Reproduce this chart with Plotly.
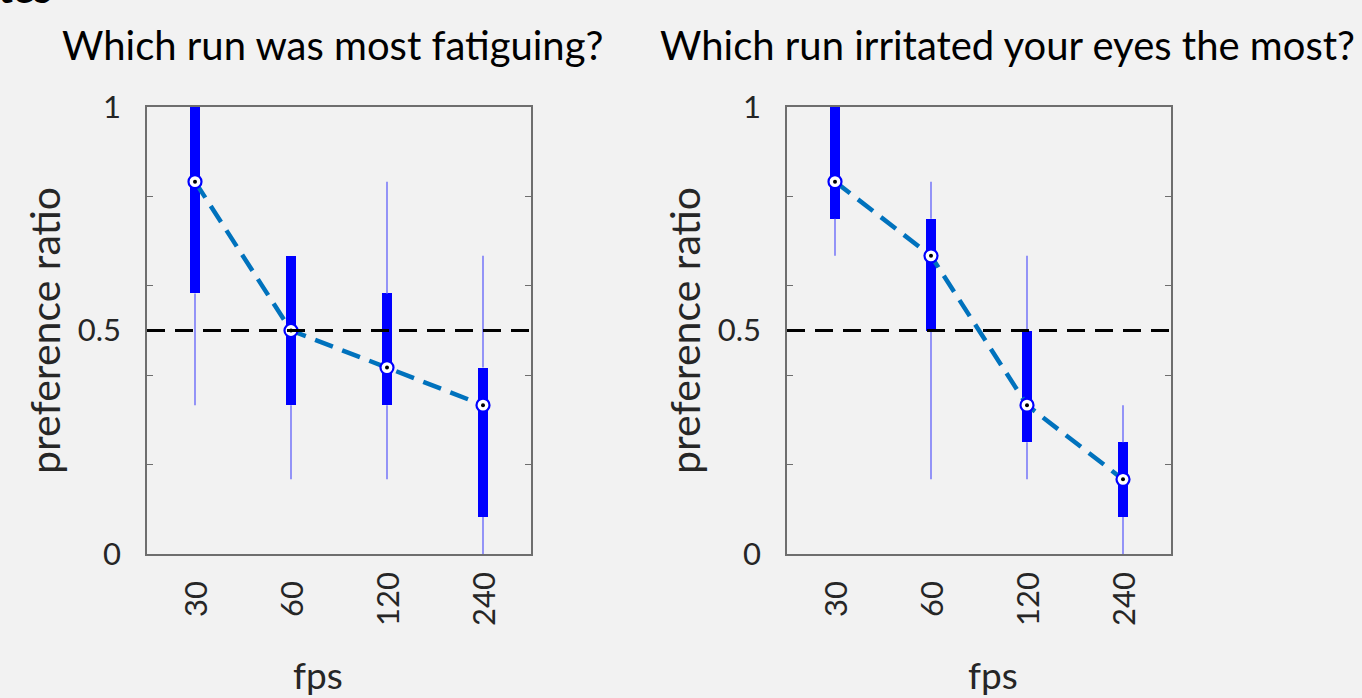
import plotly.graph_objects as go

# fps conditions shown on both panels
fps = ["30", "60", "120", "240"]

# "Which run was most fatiguing?"
fat_median = [0.833, 0.5, 0.417, 0.333]
fat_q1 = [0.583, 0.333, 0.333, 0.083]
fat_q3 = [1.0, 0.667, 0.583, 0.417]
fat_lo = [0.333, 0.167, 0.167, 0.0]
fat_hi = [1.0, 0.667, 0.833, 0.667]

# "Which run irritated your eyes the most?"
eye_median = [0.833, 0.667, 0.333, 0.167]
eye_q1 = [0.75, 0.5, 0.25, 0.083]
eye_q3 = [1.0, 0.75, 0.5, 0.25]
eye_lo = [0.667, 0.167, 0.167, 0.0]
eye_hi = [1.0, 0.833, 0.667, 0.333]

titles = ["Which run was most fatiguing?", "Which run irritated your eyes the most?"]
y_tickvals = [0, 0.5, 1]
y_ticktext = ["0", "0.5", "1"]
y_minor = [0.2, 0.4, 0.6, 0.8]
chance = 0.5

FONT = "Lato, Noto Sans, sans-serif"
BG = "#f2f2f2"
BOX = "#0000ff"
WHISK = "#7b7bf8"
LINE = "#0072bd"
FRAME = "#6e6e6e"
TXT = "#262626"

fig = go.Figure()

panels = [
    dict(xa="x", ya="y", med=fat_median, q1=fat_q1, q3=fat_q3, lo=fat_lo, hi=fat_hi),
    dict(xa="x2", ya="y2", med=eye_median, q1=eye_q1, q3=eye_q3, lo=eye_lo, hi=eye_hi),
]

for p in panels:
    # lower whiskers: from the first quartile down to the minimum
    fig.add_trace(go.Scatter(
        x=fps, y=p["q1"], mode="markers", marker=dict(size=0.1, color="rgba(0,0,0,0)"),
        error_y=dict(type="data", symmetric=False,
                     array=[0] * len(fps),
                     arrayminus=[a - l for a, l in zip(p["q1"], p["lo"])],
                     color=WHISK, thickness=1.6, width=0),
        xaxis=p["xa"], yaxis=p["ya"], showlegend=False, hoverinfo="skip"))
    # upper whiskers: from the third quartile up to the maximum
    fig.add_trace(go.Scatter(
        x=fps, y=p["q3"], mode="markers", marker=dict(size=0.1, color="rgba(0,0,0,0)"),
        error_y=dict(type="data", symmetric=False,
                     array=[h - b for h, b in zip(p["hi"], p["q3"])],
                     arrayminus=[0] * len(fps),
                     color=WHISK, thickness=1.6, width=0),
        xaxis=p["xa"], yaxis=p["ya"], showlegend=False, hoverinfo="skip"))
    # interquartile boxes
    fig.add_trace(go.Bar(
        x=fps, y=[b - a for a, b in zip(p["q1"], p["q3"])], base=p["q1"],
        width=0.1, marker=dict(color=BOX, line=dict(width=0)),
        xaxis=p["xa"], yaxis=p["ya"], showlegend=False))
    # median trend, dashed
    fig.add_trace(go.Scatter(
        x=fps, y=p["med"], mode="lines",
        line=dict(color=LINE, width=4.5, dash="19px,10px"),
        xaxis=p["xa"], yaxis=p["ya"], showlegend=False))
    # median markers
    fig.add_trace(go.Scatter(
        x=fps, y=p["med"], mode="markers",
        marker=dict(symbol="circle", size=13, color="white", line=dict(color=BOX, width=2.2)),
        xaxis=p["xa"], yaxis=p["ya"], showlegend=False))
    fig.add_trace(go.Scatter(
        x=fps, y=p["med"], mode="markers",
        marker=dict(symbol="circle", size=4, color="black"),
        xaxis=p["xa"], yaxis=p["ya"], showlegend=False))

W, H = 1362, 698
ydom = [1 - 554 / H, 1 - 107 / H]
xdoms = [[147 / W, 531 / W], [787 / W, 1171 / W]]

axis_common = dict(showline=True, linecolor=FRAME, linewidth=1.5, mirror="ticks",
                   showgrid=False, zeroline=False, automargin=False)

for i, xd in enumerate(xdoms):
    sx = "" if i == 0 else "2"
    fig.layout["xaxis" + sx] = go.layout.XAxis(
        domain=xd, type="category", range=[-0.5, 3.5], showticklabels=False,
        ticks="", anchor="y" + sx, **axis_common)
    fig.layout["yaxis" + sx] = go.layout.YAxis(
        domain=ydom, range=[0, 1], anchor="x" + sx,
        tickvals=y_tickvals, ticktext=y_ticktext, ticks="inside", ticklen=0,
        tickfont=dict(family=FONT, size=31, color=TXT), ticklabelstandoff=18,
        minor=dict(tickvals=y_minor, ticks="inside", ticklen=6, tickcolor=FRAME, tickwidth=1.2),
        title=dict(text="preference ratio", font=dict(family=FONT, size=41, color=TXT), standoff=4),
        **axis_common)
    # chance level reference line
    fig.add_shape(type="line", xref="x" + sx + " domain", yref="y" + sx,
                  x0=0, x1=1, y0=chance, y1=chance,
                  line=dict(color="black", width=2.8, dash="18px,10px"))

# panel titles
title_x = [332 / W, 1007 / W]
for tx, t in zip(title_x, titles):
    fig.add_annotation(text=t, x=tx, y=1 - 45 / H, xref="paper", yref="paper",
                       xanchor="center", yanchor="middle", showarrow=False,
                       font=dict(family=FONT, size=40, color="black"))

# rotated x tick labels, centred below each category
for i in range(2):
    sx = "" if i == 0 else "2"
    for k, c in enumerate(fps):
        fig.add_annotation(text=c, x=k, xref="x" + sx, y=1 - 599 / H, yref="paper",
                           textangle=-90, xanchor="center", yanchor="middle",
                           showarrow=False, font=dict(family=FONT, size=31, color=TXT))

# x axis titles
for fx in [318 / W, 993 / W]:
    fig.add_annotation(text="fps", x=fx, y=1 - 674 / H, xref="paper", yref="paper",
                       xanchor="center", yanchor="middle", showarrow=False,
                       font=dict(family=FONT, size=37, color=TXT))

# heading fragment running off the top edge
fig.add_annotation(text="<b>tes</b>", x=0, y=1 - 14 / H, xref="paper", yref="paper",
                   xanchor="left", yanchor="bottom", xshift=-4, showarrow=False,
                   font=dict(family=FONT, size=40, color="black"))

fig.update_layout(width=W, height=H, margin=dict(l=0, r=0, t=0, b=0),
                  paper_bgcolor=BG, plot_bgcolor=BG, bargap=0, showlegend=False)

fig.write_html("out.html")
